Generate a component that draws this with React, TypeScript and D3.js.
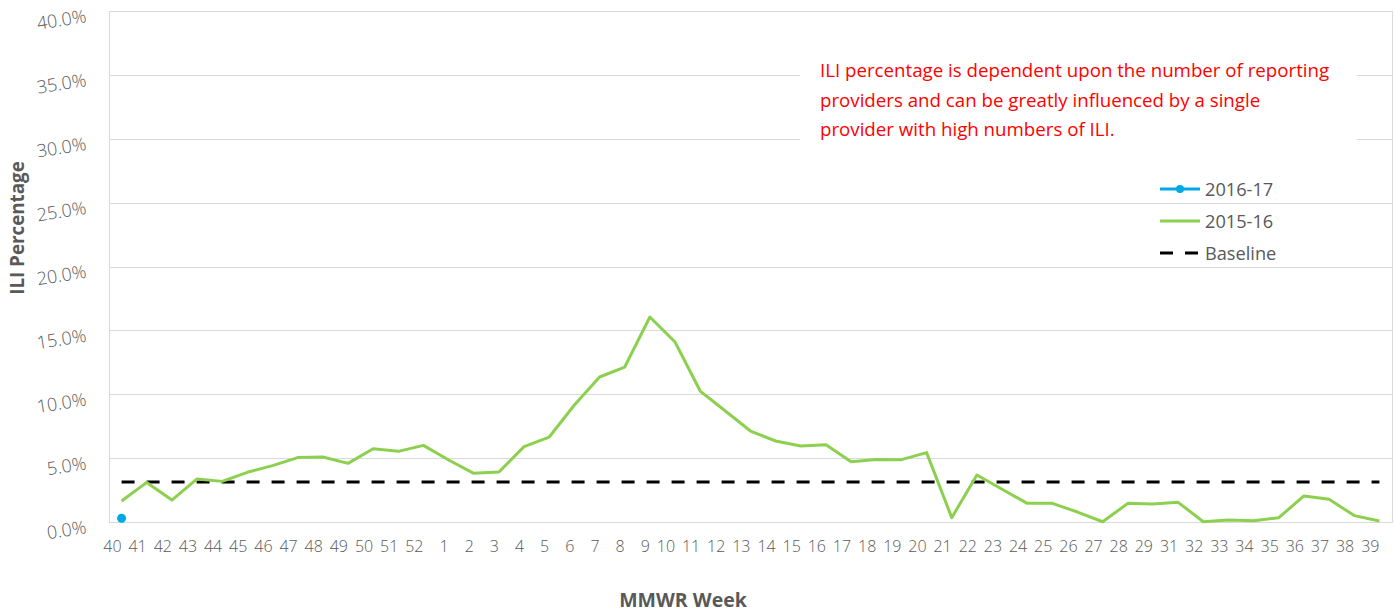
import * as d3 from "d3";

const weeks = [
  "40", "41", "42", "43", "44", "45", "46", "47", "48", "49", "50", "51", "52",
  "1", "2", "3", "4", "5", "6", "7", "8", "9", "10", "11", "12", "13", "14",
  "15", "16", "17", "18", "19", "20", "21", "22", "23", "24", "25", "26", "27",
  "28", "29", "31", "32", "33", "34", "35", "36", "37", "38", "39",
];

const season1516 = [
  1.64, 3.1, 1.72, 3.37, 3.18, 3.89, 4.41, 5.04, 5.09, 4.59, 5.74, 5.53, 6.0,
  4.85, 3.81, 3.91, 5.9, 6.65, 9.16, 11.35, 12.13, 16.05, 14.09, 10.25, 8.69,
  7.12, 6.34, 5.95, 6.05, 4.72, 4.9, 4.88, 5.43, 0.34, 3.68, 2.56, 1.46, 1.46,
  0.78, 0.02, 1.46, 1.41, 1.54, 0.02, 0.16, 0.1, 0.34, 2.04, 1.78, 0.5, 0.08,
];

const season1617 = [0.29];
const baseline = 3.13;

const yTicks = [0, 5, 10, 15, 20, 25, 30, 35, 40];

const noteLines = [
  "ILI percentage is dependent upon the number of reporting",
  "providers and can be greatly influenced by a single",
  "provider with high numbers of ILI.",
];

const legendItems = [
  { label: "2016-17", color: "#00a8e6", dash: "", dot: true },
  { label: "2015-16", color: "#8dd04f", dash: "", dot: false },
  { label: "Baseline", color: "#000000", dash: "13,12", dot: false },
];

const W = 1395;
const H = 613;
const plot = { left: 109, right: 1392, top: 11, bottom: 522 };
const gray = "#595959";
const font = "'Open Sans', sans-serif";

export default function App() {
  const x = d3
    .scaleBand<string>()
    .domain(weeks)
    .range([plot.left, plot.right]);
  const cx = (w: string) => (x(w) ?? 0) + x.bandwidth() / 2;
  const y = d3.scaleLinear().domain([0, 40]).range([plot.bottom, plot.top]);

  const line = d3
    .line<number>()
    .x((_, i) => cx(weeks[i]))
    .y((d) => y(d));

  const first = cx(weeks[0]);
  const last = cx(weeks[weeks.length - 1]);

  return (
    <svg
      width={W}
      height={H}
      style={{ position: "absolute", left: 0, top: 0, fontFamily: font }}
    >
      <rect width={W} height={H} fill="#fff" />
      {/* grid */}
      {yTicks.map((t) => (
        <line
          key={t}
          x1={plot.left}
          x2={plot.right}
          y1={Math.round(y(t)) + 0.5}
          y2={Math.round(y(t)) + 0.5}
          stroke="#d9d9d9"
        />
      ))}
      <rect
        x={plot.left + 0.5}
        y={plot.top + 0.5}
        width={plot.right - plot.left}
        height={plot.bottom - plot.top}
        fill="none"
        stroke="#d9d9d9"
      />
      {/* note box hides the grid behind it */}
      <rect x={800} y={45} width={557} height={105} fill="#fff" />
      {noteLines.map((s, i) => (
        <text key={i} x={820} y={77 + i * 29.5} fill="#ff0000" fontSize={18.7}>
          {s}
        </text>
      ))}

      {/* y labels */}
      {yTicks.map((t) => {
        const ty = y(t) + 11;
        return (
          <text
            key={t}
            x={87}
            y={ty}
            textAnchor="end"
            fill={gray}
            fontSize={18}
            fontWeight={300}
            transform={`rotate(-9 87 ${ty})`}
          >
            {t.toFixed(1) + "%"}
          </text>
        );
      })}
      {/* x labels, right edge at the point */}
      {weeks.map((w) => (
        <text
          key={w}
          x={cx(w)}
          y={552}
          textAnchor="end"
          fill={gray}
          fontSize={16}
          fontWeight={300}
        >
          {w}
        </text>
      ))}

      {/* baseline */}
      <line
        x1={first}
        x2={last}
        y1={y(baseline)}
        y2={y(baseline)}
        stroke="#000"
        strokeWidth={3}
        strokeDasharray="13,12"
      />
      <path
        d={line(season1516) ?? ""}
        fill="none"
        stroke="#8dd04f"
        strokeWidth={3}
        strokeLinejoin="round"
      />
      {season1617.map((v, i) => (
        <circle key={i} cx={cx(weeks[i])} cy={y(v)} r={4.5} fill="#00a8e6" />
      ))}

      {/* legend */}
      {legendItems.map((it, i) => {
        const ly = 189 + i * 32;
        return (
          <g key={it.label}>
            <line
              x1={1160}
              x2={1200}
              y1={ly}
              y2={ly}
              stroke={it.color}
              strokeWidth={3}
              strokeDasharray={it.dash || undefined}
            />
            {it.dot && <circle cx={1180} cy={ly} r={4} fill={it.color} />}
            <text x={1205} y={ly + 7} fill={gray} fontSize={18.2}>
              {it.label}
            </text>
          </g>
        );
      })}

      {/* axis titles */}
      <text
        x={683}
        y={607}
        textAnchor="middle"
        fill={gray}
        fontSize={19.5}
        fontWeight="bold"
      >
        MMWR Week
      </text>
      <text
        transform="translate(24 228) rotate(-90)"
        textAnchor="middle"
        fill={gray}
        fontSize={18.8}
        fontWeight="bold"
      >
        ILI Percentage
      </text>
    </svg>
  );
}
